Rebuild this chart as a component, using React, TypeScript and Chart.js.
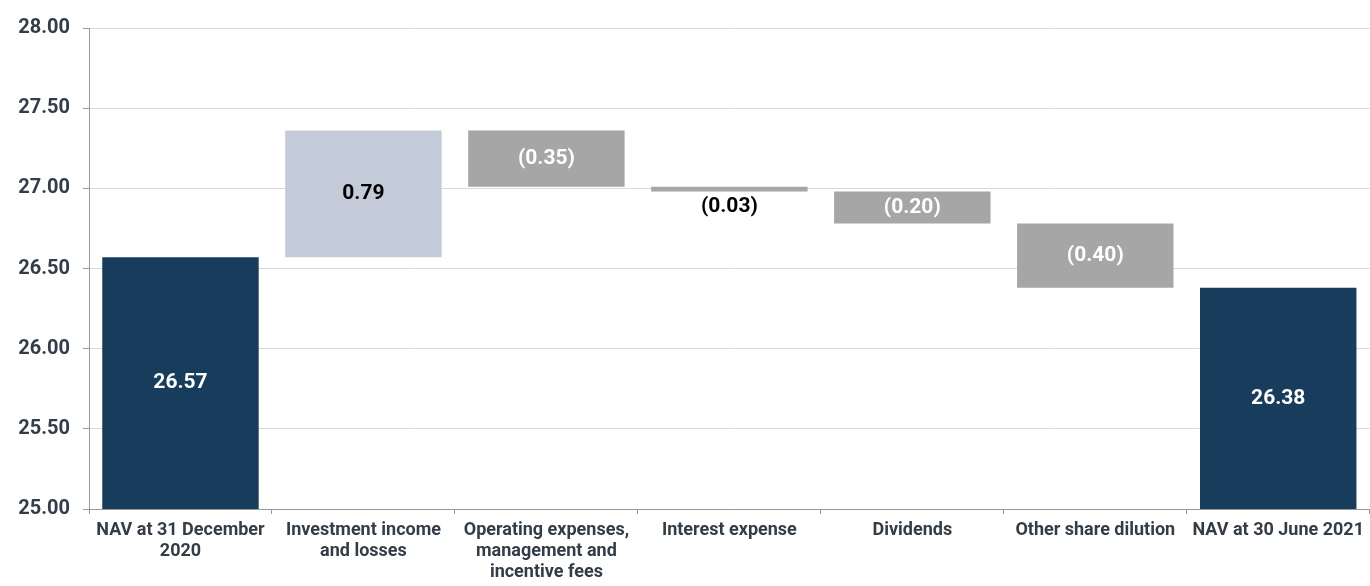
import React, { useEffect, useRef } from "react";
import { Chart, registerables } from "chart.js";

Chart.register(...registerables);

const categories: string[][] = [
  ["NAV at 31 December", "2020"],
  ["Investment income", "and losses"],
  ["Operating expenses,", "management and", "incentive fees"],
  ["Interest expense"],
  ["Dividends"],
  ["Other share dilution"],
  ["NAV at 30 June 2021"],
];
const startNav = 26.57;
const changes = [0.79, -0.35, -0.03, -0.2, -0.4];
const endNav = 26.38;
const yTicks = [25, 25.5, 26, 26.5, 27, 27.5, 28];

const NAVY = "#173c5c";
const LIGHT = "#c3cbd9";
const GREY = "#a6a6a6";
const TEXT = "#333d48";

export default function App() {
  const ref = useRef<HTMLCanvasElement>(null);
  useEffect(() => {
    document.body.style.margin = "0";
    const ranges: [number, number][] = [];
    const colors: string[] = [];
    const labels: string[] = [];
    const labelColors: string[] = [];
    const labelBelow: boolean[] = [];
    ranges.push([0, startNav]);
    colors.push(NAVY);
    labels.push(startNav.toFixed(2));
    labelColors.push("#ffffff");
    labelBelow.push(false);
    let cur = startNav;
    changes.forEach((c) => {
      const next = Math.round((cur + c) * 100) / 100;
      ranges.push([cur, next]);
      colors.push(c >= 0 ? LIGHT : GREY);
      labels.push(c >= 0 ? c.toFixed(2) : "(" + Math.abs(c).toFixed(2) + ")");
      const small = Math.abs(c) < 0.1;
      labelColors.push(c >= 0 || small ? "#000000" : "#ffffff");
      labelBelow.push(small);
      cur = next;
    });
    ranges.push([0, endNav]);
    colors.push(NAVY);
    labels.push(endNav.toFixed(2));
    labelColors.push("#ffffff");
    labelBelow.push(false);

    const labelPlugin = {
      id: "wfLabels",
      afterDatasetsDraw(chart: any) {
        const ctx = chart.ctx;
        const y = chart.scales.y;
        const meta = chart.getDatasetMeta(0);
        ctx.save();
        ctx.font = "bold 21px Roboto";
        ctx.textAlign = "center";
        ctx.textBaseline = "middle";
        meta.data.forEach((bar: any, i: number) => {
          const [a, b] = ranges[i];
          const lo = Math.max(Math.min(a, b), y.min);
          const hi = Math.min(Math.max(a, b), y.max);
          const pLo = y.getPixelForValue(lo);
          const pHi = y.getPixelForValue(hi);
          let py = (pLo + pHi) / 2;
          if (labelBelow[i]) py = pLo + 15;
          ctx.fillStyle = labelColors[i];
          ctx.fillText(labels[i], bar.x, py);
        });
        ctx.restore();
      },
    };

    const chart = new Chart(ref.current!, {
      type: "bar",
      data: {
        labels: categories,
        datasets: [
          {
            data: ranges as any,
            backgroundColor: colors,
            borderWidth: 0,
            barPercentage: 0.855,
            categoryPercentage: 1,
          },
        ],
      },
      options: {
        animation: false,
        responsive: false,
        layout: { padding: { top: 28, right: 0, left: 0, bottom: 0 } },
        plugins: { legend: { display: false }, tooltip: { enabled: false } },
        scales: {
          x: {
            offset: true,
            grid: {
              display: true,
              offset: true,
              drawOnChartArea: false,
              tickLength: 5,
              color: "#999999",
            },
            border: { color: "#999999", width: 1 },
            ticks: {
              color: TEXT,
              font: { family: "Roboto", weight: "bold", size: 18, lineHeight: 1.17 },
              padding: 6,
              maxRotation: 0,
              autoSkip: false,
            },
            afterFit: (s: any) => {
              s.height = 77;
            },
          },
          y: {
            min: 25,
            max: 28,
            afterBuildTicks: (s: any) => {
              s.ticks = yTicks.map((v) => ({ value: v }));
            },
            grid: {
              color: "#d9d9d9",
              tickColor: "#999999",
              tickLength: 6,
              lineWidth: 1,
            },
            border: { color: "#999999", width: 1 },
            ticks: {
              color: TEXT,
              font: { family: "Roboto", weight: "bold", size: 20 },
              padding: 13,
              callback: (v: any) => Number(v).toFixed(2),
            },
            afterFit: (s: any) => {
              s.width = 89;
            },
          },
        },
      },
      plugins: [labelPlugin],
    });
    return () => chart.destroy();
  }, []);
  return <canvas ref={ref} width={1370} height={586} style={{ display: "block" }} />;
}
